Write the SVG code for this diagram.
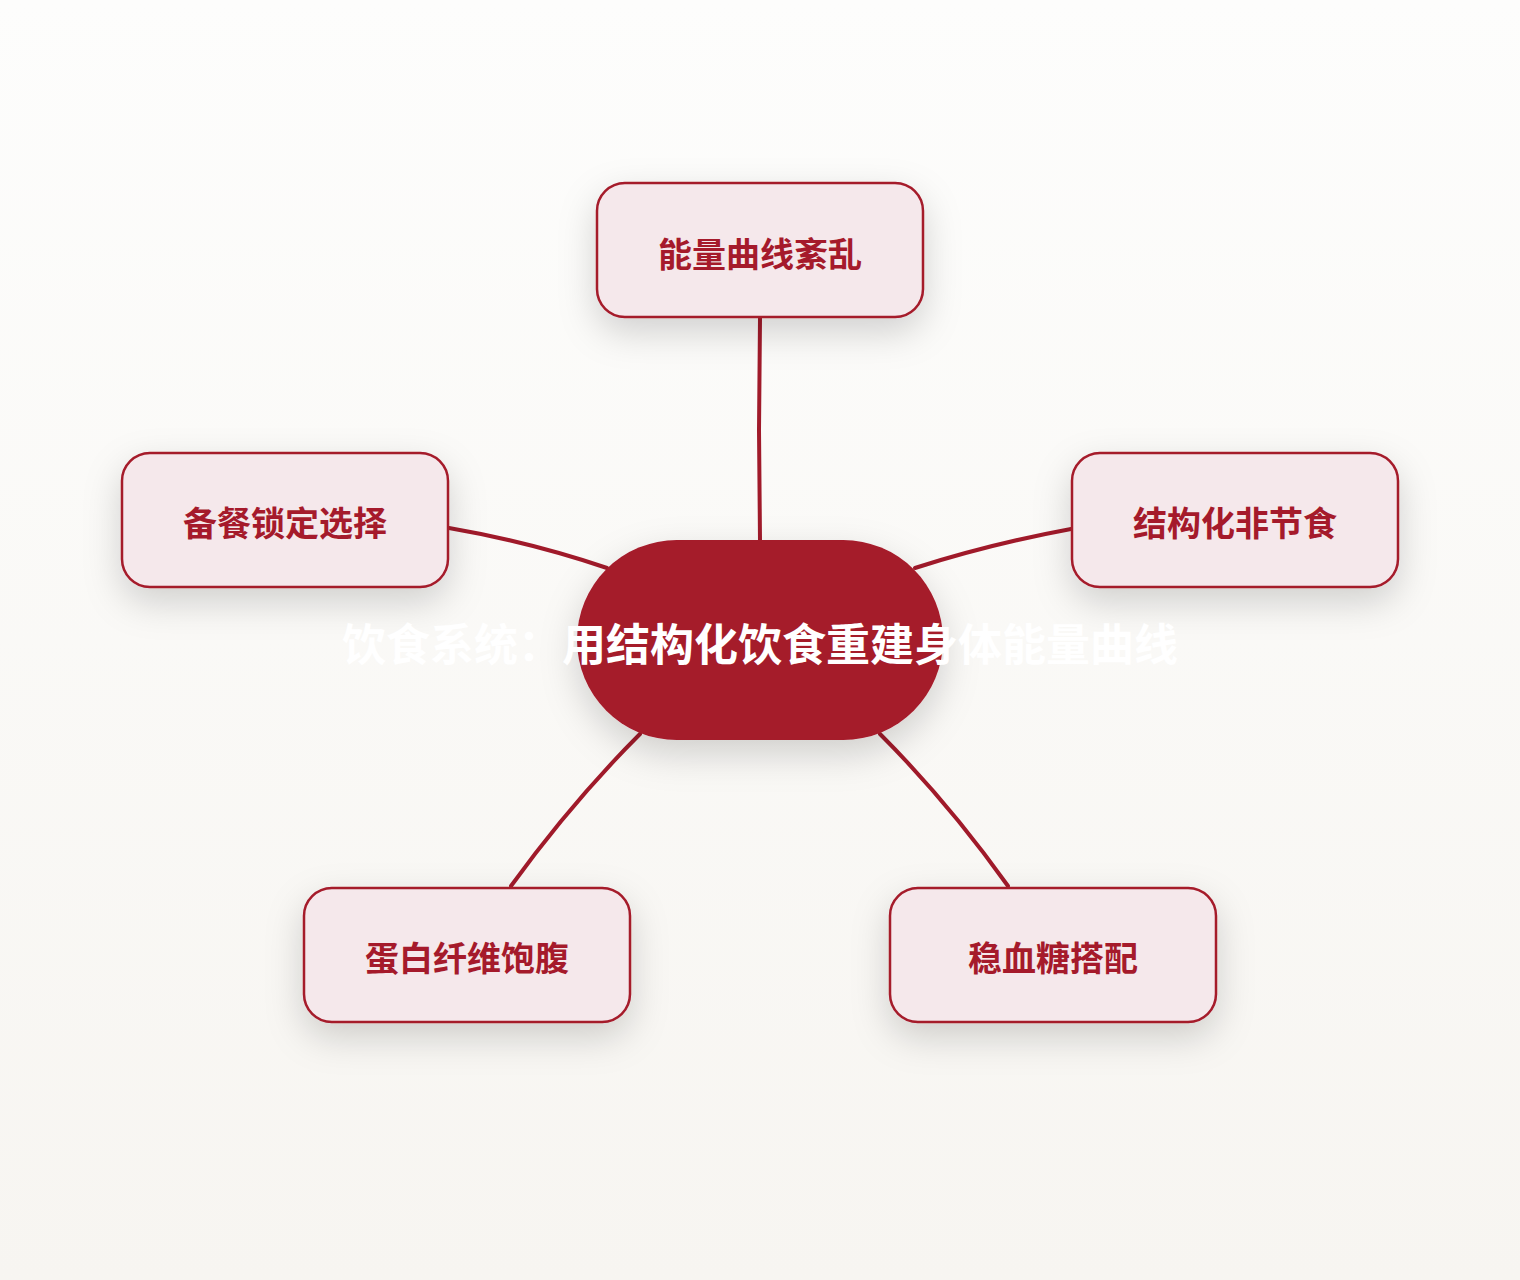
<svg xmlns="http://www.w3.org/2000/svg" width="1520" height="1280" viewBox="0 0 1520 1280">
<defs>
<linearGradient id="bg" x1="0" y1="0" x2="0" y2="1">
<stop offset="0" stop-color="#FDFDFC"/>
<stop offset="1" stop-color="#F7F5F1"/>
</linearGradient>
<filter id="sh" x="-30%" y="-40%" width="160%" height="200%">
<feDropShadow dx="0" dy="14" stdDeviation="18" flood-color="#000" flood-opacity="0.17"/>
</filter>
</defs>
<style>
.node rect{fill:#F5E8EB;stroke:#A51A2B;stroke-width:2.5;}
.lbl{font-family:"Noto Sans CJK SC","Noto Sans",sans-serif;font-weight:700;font-size:34px;fill:#A51A2B;text-anchor:middle;dominant-baseline:central;}
.edge{fill:none;stroke:#A01A2A;stroke-width:4;stroke-linecap:round;}
.ctext{font-family:"Noto Sans CJK SC","Noto Sans",sans-serif;font-weight:700;font-size:44px;fill:#FFFFFF;text-anchor:middle;dominant-baseline:central;}
</style>
<rect width="1520" height="1280" fill="url(#bg)"/>
<g id="connectors">
<path class="edge" d="M760,318 L759,430 L760,540"/>
<path class="edge" d="M449,528 Q530,542 607,568"/>
<path class="edge" d="M1071,529 Q990,544 915,568"/>
<path class="edge" d="M511,886 Q572,802 640,734"/>
<path class="edge" d="M1008,886 Q948,802 880,734"/>
</g>
<g id="center" filter="url(#sh)">
<rect x="577" y="540" width="366" height="200" rx="100" fill="#A51A2B"/>
</g>
<g id="n-top" class="node" filter="url(#sh)">
<rect x="597" y="183" width="326" height="134" rx="28"/>
</g>
<g id="n-left" class="node" filter="url(#sh)">
<rect x="122" y="453" width="326" height="134" rx="28"/>
</g>
<g id="n-right" class="node" filter="url(#sh)">
<rect x="1072" y="453" width="326" height="134" rx="28"/>
</g>
<g id="n-bl" class="node" filter="url(#sh)">
<rect x="304" y="888" width="326" height="134" rx="28"/>
</g>
<g id="n-br" class="node" filter="url(#sh)">
<rect x="890" y="888" width="326" height="134" rx="28"/>
</g>
<g id="labels">
<text class="lbl" x="760" y="252">能量曲线紊乱</text>
<text class="lbl" x="285" y="521">备餐锁定选择</text>
<text class="lbl" x="1235" y="521">结构化非节食</text>
<text class="lbl" x="467" y="956">蛋白纤维饱腹</text>
<text class="lbl" x="1053" y="956">稳血糖搭配</text>
<text class="ctext" x="760" y="642">饮食系统：用结构化饮食重建身体能量曲线</text>
</g>
</svg>
